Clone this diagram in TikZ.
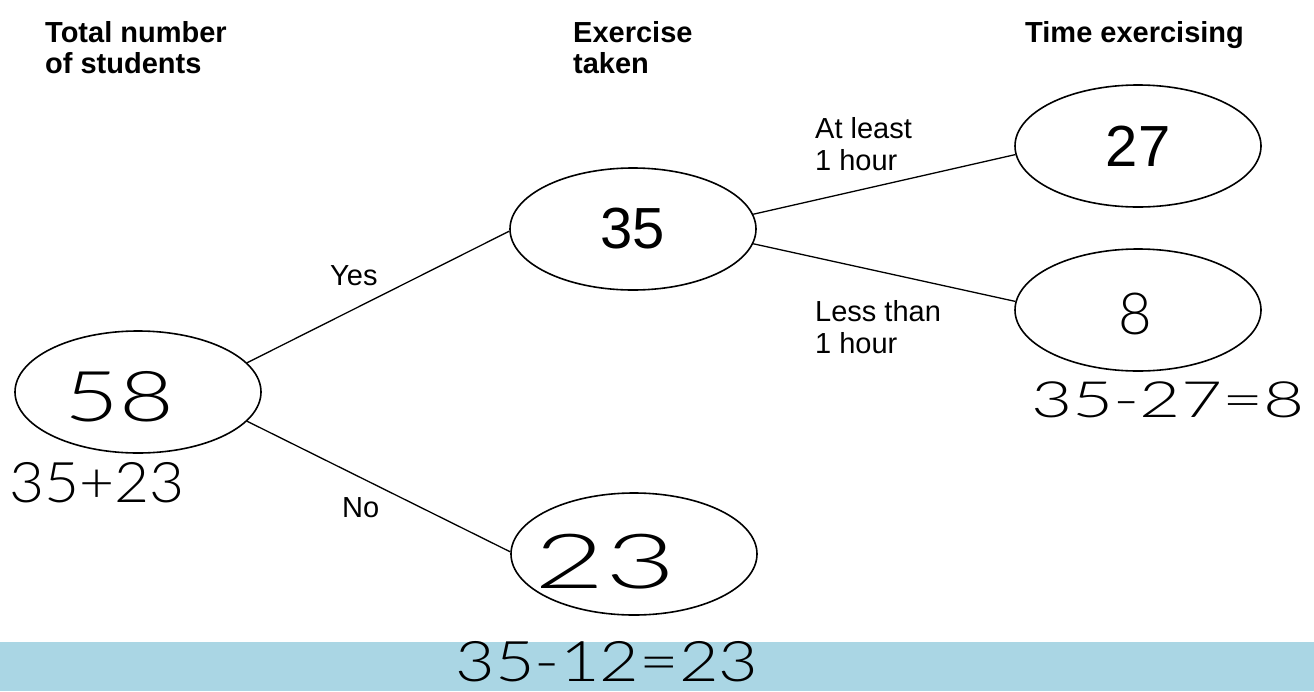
\documentclass[tikz,border=0pt]{standalone}
\usepackage{fontspec}
\setmainfont{Liberation Sans}
\newfontfamily\hand{Lato Light}
\usetikzlibrary{shapes.geometric}
\definecolor{band}{RGB}{170,214,228}
\tikzset{
  oval/.style={ellipse,draw=black,line width=1.6pt,minimum width=246pt,minimum height=122pt,inner sep=0pt,font=\fontsize{58}{60}\selectfont},
  head/.style={anchor=north west,inner sep=0pt,align=left,font=\bfseries\fontsize{29}{31}\selectfont},
  lab/.style={anchor=north west,inner sep=0pt,align=left,font=\fontsize{29}{32.5}\selectfont},
  hw/.style={inner sep=0pt,text=black},
  conn/.style={line width=1.3pt,draw=black}
}
\begin{document}
\begin{tikzpicture}[x=1pt,y=-1pt]
\useasboundingbox (0,0) rectangle (1314,691);
\fill[white] (0,0) rectangle (1314,691);
\fill[band] (0,642) rectangle (1314,691);

% headers
\node[head] (hTotal) at (45,21) {Total number\\of students};
\node[head] (hEx) at (573,21) {Exercise\\taken};
\node[head] (hTime) at (1025,21) {Time exercising};

% ellipses
\node[oval] (n58) at (138,392) {};
\node[oval] (n35) at (633,229) {35};
\node[oval] (n23) at (634,554) {};
\node[oval] (n27) at (1138,146) {27};
\node[oval] (n8) at (1138,310) {};

% connectors
\draw[conn] (n58.15.3) -- (n35.181.4);
\draw[conn] (n58.-15.5) -- (n23.179);
\draw[conn] (n35.7.6) -- (n27.184.2);
\draw[conn] (n35.-7.5) -- (n8.176.7);

% branch labels
\node[lab] (lYes) at (330,265) {Yes};
\node[lab] (lNo) at (342,497) {No};
\node[lab] (lAt) at (815,117) {At least\\1 hour};
\node[lab] (lLess) at (815,300) {Less than\\1 hour};

% handwritten values
\node[hw,font=\hand\fontsize{70}{70}\selectfont] (w58) at (119,397) {\scalebox{1.35}[1]{58}};
\node[hw,font=\hand\fontsize{56}{56}\selectfont] (wSum) at (97,483) {\scalebox{1.08}[1]{35+23}};
\node[hw,font=\hand\fontsize{76}{76}\selectfont] (w23) at (605,562) {\scalebox{1.6}[1]{23}};
\node[hw,font=\hand\fontsize{58}{58}\selectfont] (w8) at (1135,314) {8};
\node[hw,font=\hand\fontsize{50}{50}\selectfont] (wDiff) at (1168,400) {\scalebox{1.42}[1]{35-27=8}};
\node[hw,font=\hand\fontsize{56}{56}\selectfont] (wBand) at (607,662) {\scalebox{1.22}[1]{35-12=23}};
\end{tikzpicture}
\end{document}
